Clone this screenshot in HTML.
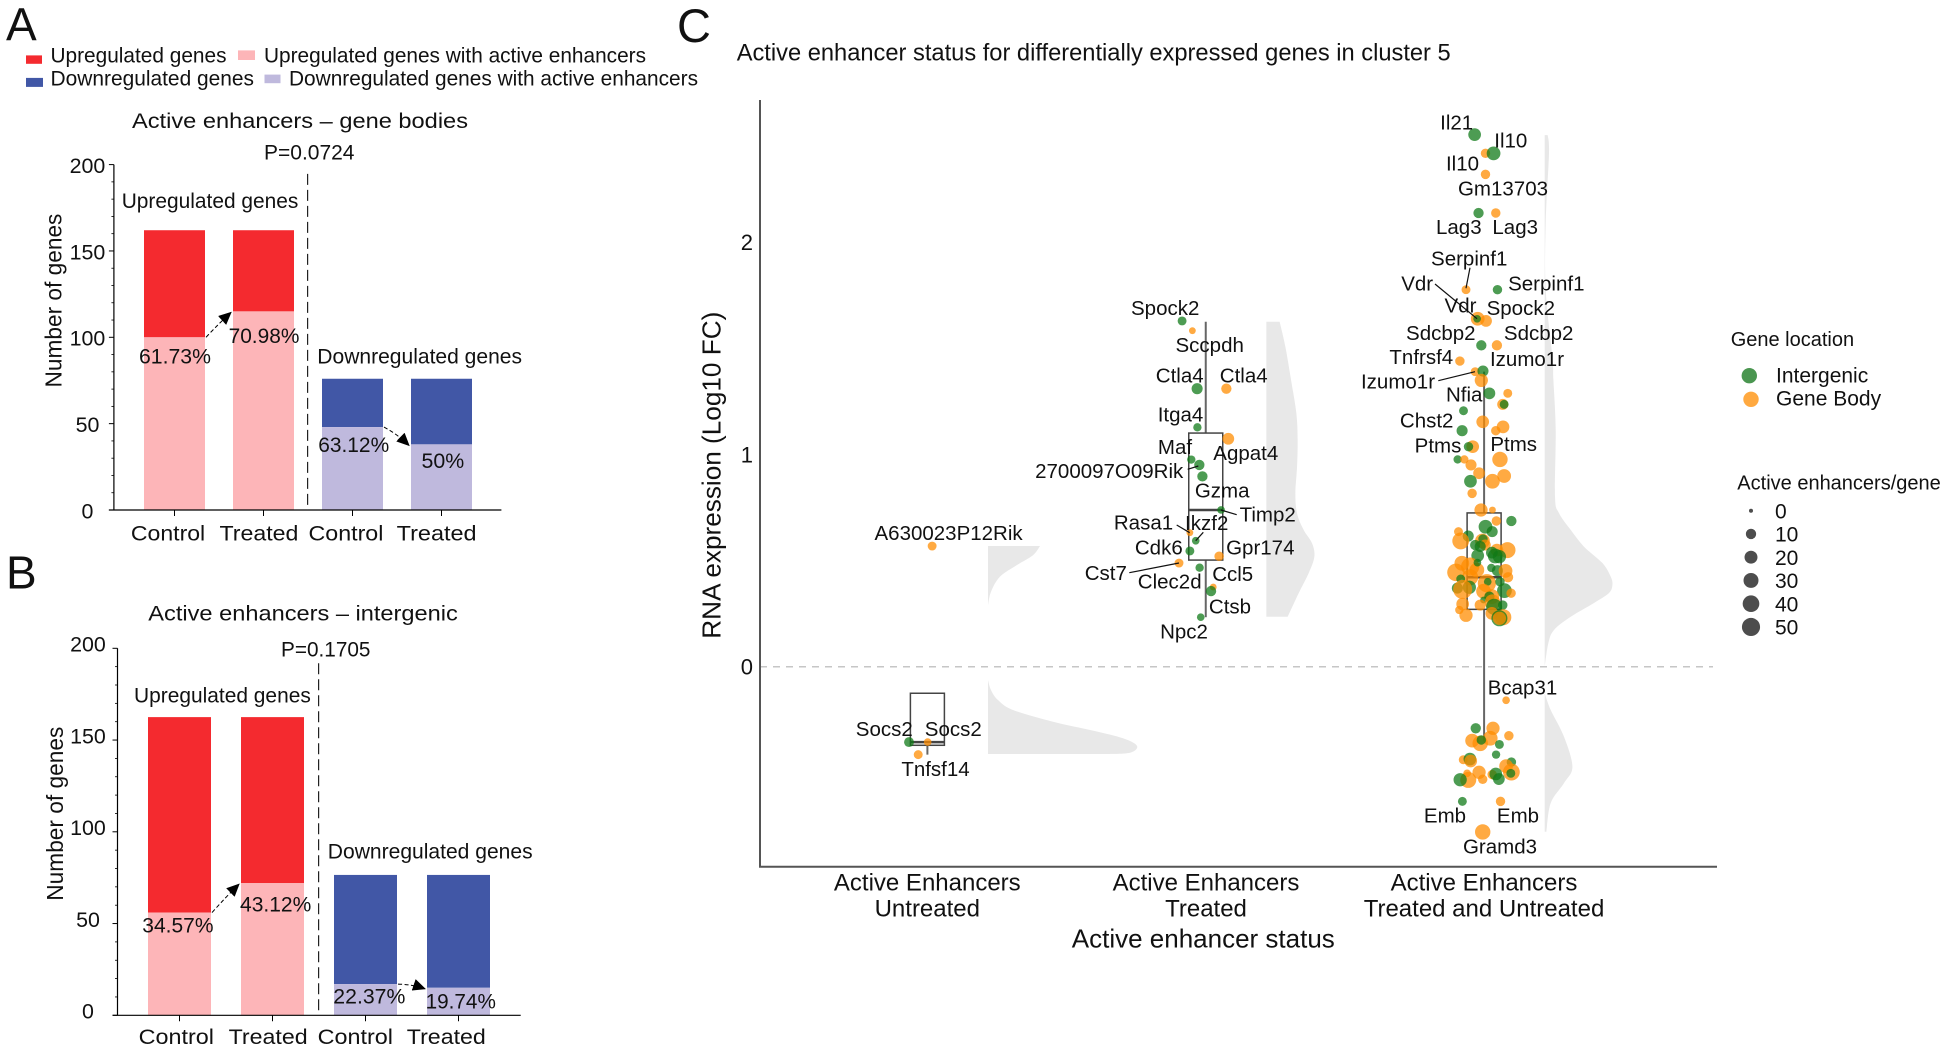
<!DOCTYPE html>
<html lang="en">
<head>
<meta charset="utf-8">
<title>Active enhancer status figure</title>
<style>
html,body{margin:0;padding:0;background:#fff;overflow:hidden;}
svg{display:block;font-family:"Liberation Sans",Arial,sans-serif;fill:#111;}
.sq{font-size:21px;}
.pl{font-size:46px;}
.gene{font-size:20.5px;text-anchor:middle;}
.conn{stroke:#111;stroke-width:1.2;fill:none;}
.cat{font-size:24px;text-anchor:middle;}
</style>
</head>
<body>
<svg id="fig" xmlns="http://www.w3.org/2000/svg" width="1951" height="1051" viewBox="0 0 1951 1051">
<defs>
<marker id="ah" markerUnits="userSpaceOnUse" markerWidth="14" markerHeight="12" refX="12" refY="6" orient="auto"><path d="M0,0 L13,6 L0,12 Z" fill="#000"/></marker>
</defs>
<rect x="0" y="0" width="1951" height="1051" fill="#fff"/>

<text class="pl" x="6" y="40.4">A</text>
<text class="pl" x="6" y="588.3">B</text>
<text class="pl" style="font-size:47px" x="677" y="42">C</text>

<g>
<rect x="26" y="55.4" width="16" height="8.4" fill="#f42a2f"/>
<text class="sq" x="50.5" y="62.5" textLength="176" lengthAdjust="spacingAndGlyphs">Upregulated genes</text>
<rect x="238" y="50.4" width="17" height="9.6" fill="#fdb5b8"/>
<text class="sq" x="264" y="62.5" textLength="382" lengthAdjust="spacingAndGlyphs">Upregulated genes with active enhancers</text>
<rect x="26" y="77.9" width="17" height="9" fill="#4157a6"/>
<text class="sq" x="50.5" y="85.7" textLength="203.5" lengthAdjust="spacingAndGlyphs">Downregulated genes</text>
<rect x="264.5" y="74.6" width="16" height="8.6" fill="#bfb9dd"/>
<text class="sq" x="289" y="85.7" textLength="409" lengthAdjust="spacingAndGlyphs">Downregulated genes with active enhancers</text>
</g>

<g>
<g id="marksA"></g>
<text class="sq" x="132" y="127.9" textLength="336" lengthAdjust="spacingAndGlyphs">Active enhancers – gene bodies</text>
<text class="sq" x="264" y="159.6" textLength="90.5" lengthAdjust="spacingAndGlyphs">P=0.0724</text>
<text class="sq" transform="translate(61.5,387.5) rotate(-90)" style="font-size:23px" textLength="173.9" lengthAdjust="spacingAndGlyphs">Number of genes</text>
<text class="sq" x="121.7" y="207.9" textLength="176.7" lengthAdjust="spacingAndGlyphs">Upregulated genes</text>
<text class="sq" x="317.3" y="363.6" textLength="204.7" lengthAdjust="spacingAndGlyphs">Downregulated genes</text>
<text class="sq" x="139" y="363.6" textLength="72" lengthAdjust="spacingAndGlyphs">61.73%</text>
<text class="sq" x="228.6" y="342.9" textLength="70.8" lengthAdjust="spacingAndGlyphs">70.98%</text>
<text class="sq" x="318.2" y="452.1" textLength="71" lengthAdjust="spacingAndGlyphs">63.12%</text>
<text class="sq" x="421.5" y="467.9" textLength="42.7" lengthAdjust="spacingAndGlyphs">50%</text>
<text class="sq" x="130.9" y="540.4" textLength="74.3" lengthAdjust="spacingAndGlyphs">Control</text>
<text class="sq" x="219.5" y="540.4" textLength="78.9" lengthAdjust="spacingAndGlyphs">Treated</text>
<text class="sq" x="308.5" y="540.4" textLength="74.9" lengthAdjust="spacingAndGlyphs">Control</text>
<text class="sq" x="396.7" y="540.4" textLength="79.9" lengthAdjust="spacingAndGlyphs">Treated</text>
</g>

<g>
<g id="marksB"></g>
<text class="sq" x="148.3" y="620.7" textLength="309.5" lengthAdjust="spacingAndGlyphs">Active enhancers – intergenic</text>
<text class="sq" x="281" y="656.7" textLength="89.5" lengthAdjust="spacingAndGlyphs">P=0.1705</text>
<text class="sq" transform="translate(62.9,900.7) rotate(-90)" style="font-size:23px" textLength="174" lengthAdjust="spacingAndGlyphs">Number of genes</text>
<text class="sq" x="134" y="702.7" textLength="176.8" lengthAdjust="spacingAndGlyphs">Upregulated genes</text>
<text class="sq" x="327.8" y="858.3" textLength="204.8" lengthAdjust="spacingAndGlyphs">Downregulated genes</text>
<text class="sq" x="142.3" y="932.3" textLength="71.2" lengthAdjust="spacingAndGlyphs">34.57%</text>
<text class="sq" x="240" y="911.7" textLength="71.3" lengthAdjust="spacingAndGlyphs">43.12%</text>
<text class="sq" x="333.3" y="1003.7" textLength="72.1" lengthAdjust="spacingAndGlyphs">22.37%</text>
<text class="sq" x="425.6" y="1008.3" textLength="70.3" lengthAdjust="spacingAndGlyphs">19.74%</text>
<text class="sq" x="138.7" y="1044" textLength="75.3" lengthAdjust="spacingAndGlyphs">Control</text>
<text class="sq" x="228.6" y="1044" textLength="79" lengthAdjust="spacingAndGlyphs">Treated</text>
<text class="sq" x="317.7" y="1044" textLength="75.3" lengthAdjust="spacingAndGlyphs">Control</text>
<text class="sq" x="406.8" y="1044" textLength="79" lengthAdjust="spacingAndGlyphs">Treated</text>
</g>

<g>
<text x="736.7" y="60.7" style="font-size:24px" textLength="714" lengthAdjust="spacingAndGlyphs">Active enhancer status for differentially expressed genes in cluster 5</text>
<g id="marksC"></g>
<text transform="translate(720.7,638.7) rotate(-90)" style="font-size:26px" textLength="327" lengthAdjust="spacingAndGlyphs">RNA expression (Log10 FC)</text>
<text class="cat" x="927.3" y="890.7">Active Enhancers</text>
<text class="cat" x="927.3" y="916.7">Untreated</text>
<text class="cat" x="1206" y="890.7">Active Enhancers</text>
<text class="cat" x="1206" y="916.7">Treated</text>
<text class="cat" x="1484" y="890.7">Active Enhancers</text>
<text class="cat" x="1484" y="916.7">Treated and Untreated</text>
<text x="1071.8" y="947.7" style="font-size:26px" textLength="263" lengthAdjust="spacingAndGlyphs">Active enhancer status</text>

<g>
<line class="conn" x1="1187.7" y1="469.3" x2="1198.3" y2="466"/>
<line class="conn" x1="1221" y1="510" x2="1236.7" y2="514.7"/>
<line class="conn" x1="1176.7" y1="525" x2="1189.7" y2="532.7"/>
<line class="conn" x1="1203.3" y1="532.3" x2="1195.7" y2="540.7"/>
<line class="conn" x1="1129.3" y1="572.7" x2="1179" y2="563"/>
<line class="conn" x1="1470" y1="267.7" x2="1466" y2="288.3"/>
<line class="conn" x1="1435" y1="284" x2="1477" y2="318.7"/>
<line class="conn" x1="1438.3" y1="380.7" x2="1475" y2="371.7"/>
</g>

<g>
<text class="gene" x="948.6" y="540">A630023P12Rik</text>
<text class="gene" x="884.3" y="736">Socs2</text>
<text class="gene" x="953.3" y="736">Socs2</text>
<text class="gene" x="935.5" y="776">Tnfsf14</text>
<text class="gene" x="1165.2" y="315">Spock2</text>
<text class="gene" x="1209.7" y="352">Sccpdh</text>
<text class="gene" x="1179.7" y="382.3">Ctla4</text>
<text class="gene" x="1243.7" y="382.3">Ctla4</text>
<text class="gene" x="1180.5" y="421.3">Itga4</text>
<text class="gene" x="1175" y="454">Maf</text>
<text class="gene" x="1245.8" y="460">Agpat4</text>
<text class="gene" x="1109.2" y="478">2700097O09Rik</text>
<text class="gene" x="1222.2" y="497.3">Gzma</text>
<text class="gene" x="1267.7" y="521.7">Timp2</text>
<text class="gene" x="1143.5" y="529.3">Rasa1</text>
<text class="gene" x="1206.7" y="530">Ikzf2</text>
<text class="gene" x="1158.8" y="554.3">Cdk6</text>
<text class="gene" x="1260.3" y="554.3">Gpr174</text>
<text class="gene" x="1105.8" y="580">Cst7</text>
<text class="gene" x="1169.7" y="588.3">Clec2d</text>
<text class="gene" x="1232.7" y="581">Ccl5</text>
<text class="gene" x="1230" y="613.3">Ctsb</text>
<text class="gene" x="1184" y="638.3">Npc2</text>
<text class="gene" x="1456.7" y="129.3">Il21</text>
<text class="gene" x="1510.8" y="147.3">Il10</text>
<text class="gene" x="1462.5" y="170.7">Il10</text>
<text class="gene" x="1503" y="195.3">Gm13703</text>
<text class="gene" x="1458.8" y="234">Lag3</text>
<text class="gene" x="1515.2" y="234">Lag3</text>
<text class="gene" x="1469.2" y="265.7">Serpinf1</text>
<text class="gene" x="1417.2" y="290.7">Vdr</text>
<text class="gene" x="1546.3" y="290.7">Serpinf1</text>
<text class="gene" x="1460.5" y="312.7">Vdr</text>
<text class="gene" x="1520.8" y="315">Spock2</text>
<text class="gene" x="1440.8" y="340">Sdcbp2</text>
<text class="gene" x="1538.7" y="340">Sdcbp2</text>
<text class="gene" x="1421.3" y="364">Tnfrsf4</text>
<text class="gene" x="1527" y="366">Izumo1r</text>
<text class="gene" x="1398" y="388.3">Izumo1r</text>
<text class="gene" x="1464.2" y="401.7">Nfia</text>
<text class="gene" x="1426.7" y="427.3">Chst2</text>
<text class="gene" x="1438" y="452.3">Ptms</text>
<text class="gene" x="1513.7" y="451">Ptms</text>
<text class="gene" x="1522.5" y="694.3">Bcap31</text>
<text class="gene" x="1445" y="822.7">Emb</text>
<text class="gene" x="1518" y="822.7">Emb</text>
<text class="gene" x="1500" y="853.3">Gramd3</text>
</g>

<g>
<text x="1730.7" y="346" style="font-size:20px">Gene location</text>
<circle cx="1749.3" cy="375.7" r="7.7" fill="#4a9650"/>
<circle cx="1751" cy="399.3" r="7.7" fill="#ffa940"/>
<text x="1776" y="382.7" style="font-size:21px">Intergenic</text>
<text x="1776" y="405.7" style="font-size:21px">Gene Body</text>
</g>
<g id="sizeLegend">
<text x="1737.3" y="489.3" style="font-size:20px">Active enhancers/gene</text>
</g>
</g>
</svg>

<script>
// ---------- Bar chart data ----------
const barCategories = ["Control", "Treated", "Control", "Treated"];
const bodyTotals = [162, 162, 76, 76];
const bodyActive = [100, 115, 48, 38];
const intergenicTotals = [162.5, 162.5, 76.5, 76.5];
const intergenicActive = [56, 72, 17, 15];
const barTickLabels = [0, 50, 100, 150, 200];
const barMinorTicks = [10, 20, 30, 40, 60, 70, 80, 90, 110, 120, 130, 140, 160, 170, 180, 190];

// ---------- Scatter data: FC = log10 fold change, jitter in category units, enh = enhancers/gene, loc G=intergenic B=gene body ----------
const untreatedFC = [0.568, -0.355, -0.355, -0.414];
const untreatedJitter = [0.017, -0.066, 0.001, -0.033];
const untreatedEnh = [4, 6, 2, 4];
const untreatedLoc = ["B", "G", "B", "B"];

const treatedFC = [1.628, 1.582, 1.309, 1.309, 1.127, 1.073, 0.975, 0.950, 0.896, 0.738, 0.631, 0.593, 0.545, 0.520, 0.488, 0.466, 0.375, 0.356, 0.233];
const treatedJitter = [-0.085, -0.048, -0.031, 0.074, -0.030, 0.081, -0.052, -0.023, -0.012, 0.055, -0.057, -0.036, -0.057, 0.048, -0.096, -0.022, 0.027, 0.019, -0.018];
const treatedEnh = [4, 1, 9, 7, 3, 11, 3, 7, 7, 2, 1, 2, 4, 5, 4, 3, 1, 7, 2];
const treatedLoc = ["G", "B", "G", "B", "G", "B", "G", "G", "G", "G", "B", "G", "G", "B", "B", "G", "B", "G", "G"];

const bothFC = [
 2.505, 2.417, 2.417, 2.318, 2.136, 2.136, 1.775, 1.775, 1.638, 1.628,
 1.638, 1.513, 1.513, 1.439, 1.389, 1.392, 1.348, 1.287, 1.287, 1.235,
 1.235, 1.205, 1.153, 1.129, 1.111, 1.111, 1.036, 1.036, 0.976, 0.976,
 0.976, 0.950, 0.911, 0.898, 0.873, 0.873, 0.816, 0.738, 0.738, 0.686,
 0.686, 0.659, 0.636, 0.636, 0.615, 0.592, 0.592, 0.601, 0.573, 0.573,
 0.566, 0.549, 0.549, 0.537, 0.518, 0.521, 0.523, 0.487, 0.444, 0.471,
 0.455, 0.490, 0.465, 0.452, 0.451, 0.421, 0.421, 0.393, 0.400, 0.413,
 0.400, 0.374, 0.370, 0.364, 0.358, 0.346, 0.355, 0.330, 0.330, 0.314,
 0.295, 0.304, 0.282, 0.290, 0.290, 0.251, 0.267, 0.242, 0.233, 0.228,
 0.228, -0.158, -0.290, -0.290, -0.325, -0.337, -0.348, -0.361, -0.345, -0.366,
 -0.414, -0.438, -0.435, -0.444, -0.449, -0.468, -0.496, -0.497, -0.502, -0.502,
 -0.508, -0.505, -0.529, -0.530, -0.533, -0.532, -0.634, -0.634, -0.778];
const bothJitter = [
 -0.034, 0.005, 0.034, 0.005, -0.020, 0.042, -0.065, 0.048, -0.023, 0.007,
 -0.025, -0.010, 0.046, -0.087, -0.032, -0.004, -0.010, 0.019, 0.085, 0.067,
 0.072, -0.074, -0.005, 0.068, 0.042, -0.079, -0.041, -0.056, 0.057, -0.095,
 -0.071, -0.047, -0.018, 0.072, 0.030, -0.049, -0.043, -0.011, 0.030, 0.044,
 0.098, 0.005, 0.029, -0.092, -0.057, -0.084, -0.006, -0.004, -0.032, 0.004,
 -0.014, 0.084, 0.046, 0.028, 0.055, 0.040, -0.023, -0.080, -0.101, -0.050,
 -0.026, -0.024, 0.026, 0.048, 0.077, 0.086, -0.050, 0.010, 0.013, -0.084,
 0.057, -0.053, -0.096, -0.077, 0.073, 0.097, -0.002, 0.028, 0.019, -0.002,
 -0.077, 0.030, 0.036, 0.067, -0.014, 0.028, -0.089, -0.065, 0.069, 0.055,
 0.055, 0.079, -0.030, 0.032, 0.089, 0.022, -0.043, -0.014, -0.010, 0.055,
 0.043, -0.075, -0.051, -0.048, 0.098, 0.079, 0.098, -0.018, 0.096, -0.061,
 0.029, 0.042, 0.053, -0.005, -0.057, -0.086, -0.078, 0.059, -0.005];
const bothEnh = [
 14, 5, 18, 5, 7, 5, 4, 5, 18, 11,
 2, 7, 7, 5, 4, 9, 16, 11, 4, 9,
 4, 4, 14, 14, 5, 9, 14, 5, 25, 3,
 3, 9, 11, 18, 22, 14, 5, 16, 1, 5,
 7, 18, 9, 4, 9, 32, 22, 5, 7, 9,
 9, 28, 14, 11, 16, 22, 14, 22, 36, 40,
 22, 2, 3, 9, 18, 7, 28, 40, 2, 4,
 5, 16, 9, 45, 22, 5, 22, 22, 7, 1,
 14, 25, 28, 5, 9, 14, 3, 16, 28, 28,
 16, 2, 7, 16, 5, 22, 18, 25, 5, 4,
 3, 4, 14, 14, 5, 18, 32, 16, 4, 2,
 5, 14, 11, 5, 28, 16, 4, 5, 25];
const bothLoc = [
 "G","B","G","B","G","B","B","G","B","B",
 "G","G","B","B","B","G","B","G","B","B",
 "G","G","B","B","B","G","B","G","B","G",
 "B","B","B","B","B","G","B","B","B","B",
 "G","G","G","B","G","B","B","G","G","B",
 "G","B","B","G","G","G","G","B","B","B",
 "B","G","G","G","B","B","B","B","G","G",
 "G","G","G","B","G","B","B","B","G","G",
 "B","B","G","G","B","B","B","B","B","G",
 "B","B","G","B","B","B","B","B","G","G",
 "G","B","G","B","G","B","B","B","G","B",
 "B","G","G","B","B","G","G","B","B"];

// Boxplot summaries: [upper whisker, q3, median, q1, lower whisker]
const untreatedBox = [-0.125, -0.125, -0.355, -0.370, -0.414];
const treatedBox = [1.624, 1.100, 0.738, 0.502, 0.233];
const bothBox = [1.389, 0.724, 0.421, 0.270, -0.345];

// Violin outlines
const violinUntreatedUpFC = [0.568, 0.525, 0.479, 0.424, 0.353, 0.290];
const violinUntreatedUpDensity = [0.52, 0.45, 0.29, 0.12, 0.03, 0];
const violinUntreatedDownFC = [-0.063, -0.110, -0.157, -0.204, -0.259, -0.301, -0.337, -0.373, -0.405, -0.411];
const violinUntreatedDownDensity = [0, 0.03, 0.10, 0.25, 0.65, 1.05, 1.35, 1.49, 1.42, 1.18];
const violinTreatedFC = [1.624, 1.507, 1.350, 1.193, 1.067, 0.942, 0.816, 0.722, 0.644, 0.581, 0.518, 0.440, 0.346, 0.235];
const violinTreatedDensity = [0.133, 0.19, 0.247, 0.30, 0.313, 0.307, 0.29, 0.307, 0.373, 0.457, 0.48, 0.423, 0.323, 0.213];
const violinBothUpFC = [2.503, 2.418, 2.089, 1.774, 1.458, 1.35, 1.114, 0.80, 0.723, 0.644, 0.565, 0.488, 0.424, 0.385, 0.347, 0.30, 0.235, 0.173, 0.112, 0];
const violinBothUpDensity = [0.03, 0.043, 0.01, 0.01, 0.077, 0.087, 0.11, 0.103, 0.143, 0.26, 0.393, 0.577, 0.66, 0.677, 0.643, 0.493, 0.26, 0.093, 0.037, 0];
const violinBothDownFC = [-0.125, -0.204, -0.33, -0.471, -0.548, -0.642, -0.777];
const violinBothDownDensity = [0, 0.06, 0.193, 0.277, 0.193, 0.06, 0.017];

const expressionTicks = [0, 1, 2];
const sizeLegendValues = [0, 10, 20, 30, 40, 50];

// ---------- helpers ----------
const NS = "http://www.w3.org/2000/svg";
function make(tag, attrs, parent) {
  const e = document.createElementNS(NS, tag);
  for (const k in attrs) e.setAttribute(k, attrs[k]);
  parent.appendChild(e);
  return e;
}

// ---------- bar panels ----------
function drawBars(parent, totals, active, axis) {
  const yScale = v => axis.y0 - v * (axis.y0 - axis.yTop) / 200;
  const xCenter = i => axis.first + i * axis.step;
  barCategories.forEach((cat, i) => {
    const up = i < 2;
    const left = xCenter(i) - axis.width / 2;
    const top = make("rect", {x: left, y: yScale(totals[i]), width: axis.width, height: yScale(active[i]) - yScale(totals[i]), fill: up ? "#f42a2f" : "#4157a6"}, parent);
    
    
    const low = make("rect", {x: left, y: yScale(active[i]), width: axis.width, height: axis.y0 - yScale(active[i]), fill: up ? "#fdb5b8" : "#bfb9dd"}, parent);
    
    
    const tick = make("line", {x1: xCenter(i), x2: xCenter(i), y1: axis.y0, y2: axis.y0 + 6, stroke: "#000", "stroke-width": 1}, parent);
    
    
  });
  const yAxis = make("line", {x1: axis.x, x2: axis.x, y1: axis.yTop, y2: axis.y0, stroke: "#000", "stroke-width": 1.2}, parent);
  
  
  const xAxis = make("line", {x1: axis.x - 5, x2: axis.xEnd, y1: axis.y0, y2: axis.y0, stroke: "#000", "stroke-width": 1.2}, parent);
  
  
  barTickLabels.forEach(v => {
    const t = make("line", {x1: axis.x - 5, x2: axis.x, y1: yScale(v), y2: yScale(v), stroke: "#000", "stroke-width": 1}, parent);
    
    
    const label = make("text", {x: axis.labelX, y: yScale(v) + axis.labelDy, "text-anchor": "middle", "class": "sq", textLength: String(v).length * 11.9, lengthAdjust: "spacingAndGlyphs"}, parent);
    
    
    label.textContent = v;
  });
  barMinorTicks.forEach(v => {
    const t = make("line", {x1: axis.x - 2.5, x2: axis.x, y1: yScale(v), y2: yScale(v), stroke: "#000", "stroke-width": 0.8}, parent);
    
    
  });
  const dash = make("line", {x1: axis.divider, x2: axis.divider, y1: axis.dividerTop, y2: axis.y0, stroke: "#222", "stroke-width": 1.2, "stroke-dasharray": "11 5"}, parent);
  
  
  [0, 2].forEach(i => {
    const x1 = xCenter(i) + axis.width / 2 + 1;
    const x2 = xCenter(i + 1) - axis.width / 2 - 2;
    const y1 = yScale(active[i]);
    const y2 = yScale(active[i + 1]) + axis.arrowDy;
    const mx = (x1 + x2) / 2, my = (y1 + y2) / 2;
    const arrow = make("path", {d: "M" + x1 + "," + y1 + " Q" + (mx + 1) + "," + (my - 2) + " " + x2 + "," + y2, fill: "none", stroke: "#000", "stroke-width": 1, "stroke-dasharray": "4 2.5", "marker-end": "url(#ah)"}, parent);
    
    
  });
}
drawBars(document.getElementById("marksA"), bodyTotals, bodyActive,
  {x: 113.9, xEnd: 501.4, y0: 510, yTop: 164.6, first: 174.5, step: 89, width: 61, labelX: 87.5, labelDy: 8.4, divider: 307.6, dividerTop: 173.9, arrowDy: 1});
drawBars(document.getElementById("marksB"), intergenicTotals, intergenicActive,
  {x: 117.5, xEnd: 520.7, y0: 1015.3, yTop: 648.3, first: 179.5, step: 93, width: 63, labelX: 88, labelDy: 3.3, divider: 318.6, dividerTop: 663.3, arrowDy: 1});

// ---------- panel C ----------
const C = document.getElementById("marksC");
const yFC = v => 666.7 - 212.4 * v;
const catX = i => 927.4 + i * 278.35;
const xJitter = (i, j) => catX(i) + j * 278.4;
const radius = n => 2.3 + 1.08 * Math.sqrt(n);
const densityPx = d => d * 100;
const violinOffset = 60.6;

const zero = make("line", {x1: 760, x2: 1713, y1: yFC(0), y2: yFC(0), stroke: "#c6c6c6", "stroke-width": 1.5, "stroke-dasharray": "7 6"}, C);



function violin(cat, fcs, dens, name) {
  const base = catX(cat) + violinOffset;
  const pts = fcs.map((v, i) => [base + densityPx(dens[i]), yFC(v)]);
  let d = "M" + base + "," + pts[0][1] + " L" + pts[0][0] + "," + pts[0][1];
  for (let i = 0; i < pts.length - 1; i++) {
    const p0 = pts[Math.max(i - 1, 0)], p1 = pts[i], p2 = pts[i + 1], p3 = pts[Math.min(i + 2, pts.length - 1)];
    const c1 = [p1[0] + (p2[0] - p0[0]) / 6, p1[1] + (p2[1] - p0[1]) / 6];
    const c2 = [p2[0] - (p3[0] - p1[0]) / 6, p2[1] - (p3[1] - p1[1]) / 6];
    d += " C" + c1[0] + "," + c1[1] + " " + c2[0] + "," + c2[1] + " " + p2[0] + "," + p2[1];
  }
  d += " L" + base + "," + pts[pts.length - 1][1] + " Z";
  const v = make("path", {d: d, fill: "#e8e8e8"}, C);
  
  
}
violin(0, violinUntreatedUpFC, violinUntreatedUpDensity, 'violin-untreated-up');
violin(0, violinUntreatedDownFC, violinUntreatedDownDensity, 'violin-untreated-down');
violin(1, violinTreatedFC, violinTreatedDensity, 'violin-treated');
violin(2, violinBothUpFC, violinBothUpDensity, 'violin-both-up');
violin(2, violinBothDownFC, violinBothDownDensity, 'violin-both-down');

function boxplot(cat, b, name) {
  const cx = catX(cat);
  const hw = 17;
  const w1 = make("line", {x1: cx, x2: cx, y1: yFC(b[0]), y2: yFC(b[1]), stroke: "#666", "stroke-width": 2}, C);
  
  
  const w2 = make("line", {x1: cx, x2: cx, y1: yFC(b[3]), y2: yFC(b[4]), stroke: "#666", "stroke-width": 2}, C);
  
  
  const r = make("rect", {x: cx - hw, y: yFC(b[1]), width: 2 * hw, height: yFC(b[3]) - yFC(b[1]), fill: "none", stroke: "#444", "stroke-width": 1.5}, C);
  
  
  const m = make("line", {x1: cx - hw, x2: cx + hw, y1: yFC(b[2]), y2: yFC(b[2]), stroke: "#444", "stroke-width": 2.5}, C);
  
  
}
boxplot(0, untreatedBox, 'box-untreated');
boxplot(1, treatedBox, 'box-treated');
boxplot(2, bothBox, 'box-both');

const locFill = {G: "#0f7a17", B: "#ff8c00"};
function points(cat, fc, jit, enh, loc, name) {
  fc.forEach((v, i) => {
    const c = make("circle", {cx: xJitter(cat, jit[i]), cy: yFC(v), r: radius(enh[i]), fill: locFill[loc[i]], "fill-opacity": 0.74}, C);
    
    
  });
}
points(0, untreatedFC, untreatedJitter, untreatedEnh, untreatedLoc, 'gene-point-untreated');
points(1, treatedFC, treatedJitter, treatedEnh, treatedLoc, 'gene-point-treated');
points(2, bothFC, bothJitter, bothEnh, bothLoc, 'gene-point-both');

const axY = make("line", {x1: 760, x2: 760, y1: 100, y2: 866.7, stroke: "#555", "stroke-width": 2}, C);


const axX = make("line", {x1: 759, x2: 1717, y1: 866.7, y2: 866.7, stroke: "#555", "stroke-width": 2}, C);


expressionTicks.forEach(v => {
  const t = make("text", {x: 753, y: yFC(v) + 8, "text-anchor": "end", style: "font-size:22px"}, C);
  
  
  t.textContent = v;
});

// size legend
const SL = document.getElementById("sizeLegend");
sizeLegendValues.forEach((v, i) => {
  const rowY = 510.7 + i * 23.25;
  const dot = make("circle", {cx: 1751, cy: rowY, r: 2 + Math.sqrt(v), fill: "#4d4d4d"}, SL);
  
  
  const lab = make("text", {x: 1775, y: rowY + 7.6, style: "font-size:21px"}, SL);
  
  
  lab.textContent = v;
});
</script>
</body>
</html>
